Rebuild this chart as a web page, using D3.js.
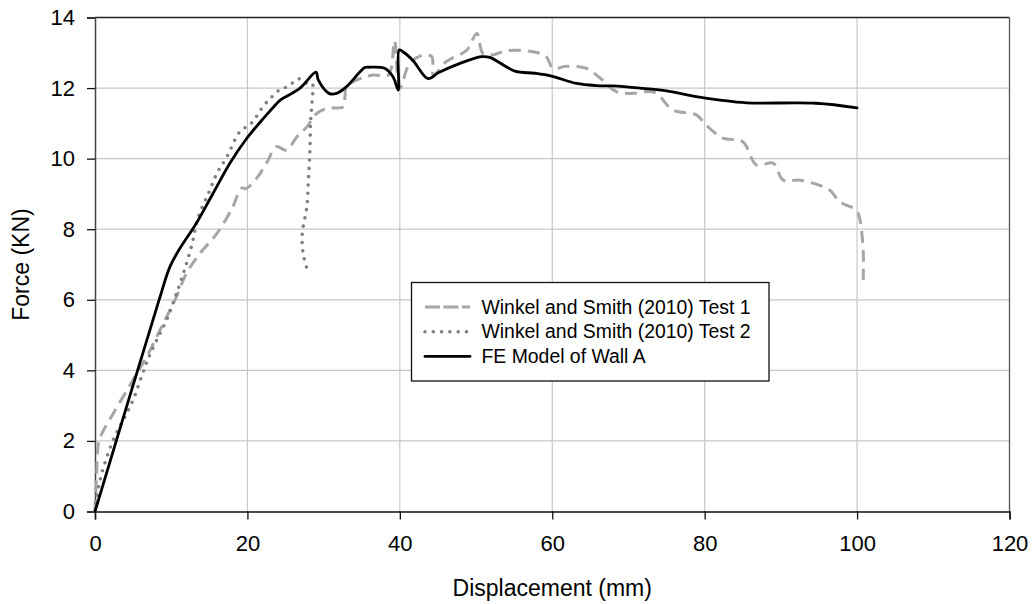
<!DOCTYPE html>
<html>
<head>
<meta charset="utf-8">
<script src="https://cdn.jsdelivr.net/npm/d3@7"></script>
<style>
  body { margin: 0; background: #fff; }
  svg { font-family: "Liberation Sans", Arial, sans-serif; }
</style>
</head>
<body>
<svg id="chart" width="1034" height="604"></svg>
<script>
// Winkel and Smith (2010) Test 1 - displacement (mm) / force (kN)
var test1Disp = [0, 0.2, 0.5, 1.0, 2.4, 4.2, 5.5, 6.8, 8.1, 9.4, 10.7, 12.0, 13.8, 16.0, 18.1, 19.2, 19.9, 21.2, 22.5, 23.8,
    25.1, 26.5, 27.8, 29.1, 30.6, 32.6, 32.8, 33.0, 34.8, 36.5, 38.5, 39.3, 40.0, 41.3, 43.1, 44.2, 44.4, 46.1, 48.8,
    50.1, 50.9, 52.2, 54.0, 57.5, 59.2, 60.1, 61.8, 64.5, 66.2, 68.4, 70.6, 72.4, 73.7, 75.8, 78.9, 80.2, 82.4, 85.0,
    86.8, 89.0, 90.3, 92.5, 96.4, 97.7, 99.9, 100.3, 100.8, 100.8];
var test1Force = [0, 1.0, 2.0, 2.25, 2.78, 3.44, 3.92, 4.39, 4.95, 5.52, 6.09, 6.75, 7.32, 7.88, 8.64, 9.16, 9.16, 9.44, 9.87, 10.34,
    10.24, 10.62, 10.9, 11.28, 11.43, 11.47, 11.75, 12.04, 12.27, 12.37, 12.37, 13.34, 12.0, 12.7, 12.94, 12.89, 12.37, 12.75, 13.08,
    13.55, 12.98, 12.94, 13.06, 13.03, 12.89, 12.56, 12.62, 12.56, 12.3, 11.9, 11.85, 11.9, 11.85, 11.38, 11.24, 10.95, 10.58, 10.48,
    9.82, 9.87, 9.39, 9.39, 9.11, 8.78, 8.54, 8.35, 7.41, 6.56];

// Winkel and Smith (2010) Test 2
var test2Disp = [0, 0.66, 2.4, 3.7, 5.0, 6.1, 7.0, 8.1, 9.4, 10.5, 11.6, 12.7, 13.5, 14.9, 16.0, 17.3, 19.0, 20.5, 22.1, 23.2,
    24.3, 25.4, 26.5, 27.1, 27.8, 28.5, 28.5, 28.3, 28.2, 28.0, 27.8, 27.2, 27.3, 27.8];
var test2Force = [0, 0.89, 2.03, 2.59, 3.16, 3.82, 4.34, 4.86, 5.43, 6.06, 6.75, 7.55, 8.31, 9.02, 9.58, 10.05, 10.76, 11.0, 11.49, 11.75,
    11.96, 12.05, 12.25, 12.25, 12.13, 12.13, 11.66, 11.09, 10.24, 9.39, 8.64, 7.88, 7.32, 6.89];

// FE Model of Wall A
var feDisp = [0, 8.4, 9.84, 11.15, 13.3, 15.5, 17.7, 19.9, 22.1, 24.3, 24.6, 26.9, 29.0, 29.3, 30.7, 31.7, 33.0, 35.4, 35.9,
    38.0, 39.1, 39.8, 39.9, 40.4, 41.7, 43.7, 45.1, 47.9, 50.7, 51.8, 55.1, 57.7, 59.9, 63.2, 65.8, 68.0, 71.9, 75.0,
    78.5, 82.0, 85.5, 94.6, 100.0];
var feForce = [0, 5.99, 6.94, 7.46, 8.17, 9.02, 9.87, 10.57, 11.14, 11.66, 11.7, 12.0, 12.45, 12.23, 11.85, 11.85, 12.04, 12.58, 12.59,
    12.56, 12.32, 11.94, 13.08, 13.03, 12.79, 12.27, 12.44, 12.70, 12.89, 12.87, 12.48, 12.42, 12.34, 12.13, 12.07, 12.06, 11.99, 11.92,
    11.77, 11.66, 11.58, 11.57, 11.44];

var xTicks = [0, 20, 40, 60, 80, 100, 120];
var yTicks = [0, 2, 4, 6, 8, 10, 12, 14];
var seriesNames = ["Winkel and Smith (2010) Test 1", "Winkel and Smith (2010) Test 2", "FE Model of Wall A"];

var svg = d3.select("#chart");
var margin = { left: 95, right: 1034 - 1009.5, top: 17.5, bottom: 604 - 511.5 };
var width = 1034 - margin.left - margin.right,
    height = 604 - margin.top - margin.bottom;

var x = d3.scaleLinear().domain([0, 120]).range([0, width]);
var y = d3.scaleLinear().domain([0, 14]).range([height, 0]);

var g = svg.append("g").attr("transform", "translate(" + margin.left + "," + margin.top + ")");

// gridlines
g.append("g")
    .selectAll("line")
    .data(xTicks.filter(function (d) { return d > 0 && d < 120; }))
    .enter().append("line")
    .attr("x1", function (d) { return x(d); })
    .attr("x2", function (d) { return x(d); })
    .attr("y1", 0).attr("y2", height)
    .attr("stroke", "#c8c8c8").attr("stroke-width", 1.2);
g.append("g")
    .selectAll("line")
    .data(yTicks.filter(function (d) { return d > 0 && d < 14; }))
    .enter().append("line")
    .attr("x1", 0).attr("x2", width)
    .attr("y1", function (d) { return y(d); })
    .attr("y2", function (d) { return y(d); })
    .attr("stroke", "#c8c8c8").attr("stroke-width", 1.2);

// plot frame (top + right)
g.append("line").attr("x1", 0).attr("x2", width).attr("y1", 0).attr("y2", 0)
    .attr("stroke", "#222").attr("stroke-width", 1.3);
g.append("line").attr("x1", width).attr("x2", width).attr("y1", 0).attr("y2", height)
    .attr("stroke", "#555").attr("stroke-width", 1.3);

// axes
var xAxis = g.append("g")
    .attr("transform", "translate(0," + height + ")")
    .call(d3.axisBottom(x).tickValues(xTicks).tickSize(8).tickPadding(16));
var yAxis = g.append("g")
    .call(d3.axisLeft(y).tickValues(yTicks).tickSize(8).tickPadding(12));

[xAxis, yAxis].forEach(function (a) {
    a.select(".domain").attr("stroke", "#111").attr("stroke-width", 1.5);
    a.selectAll(".tick line").attr("stroke", "#111").attr("stroke-width", 1.3);
    a.selectAll(".tick text").attr("fill", "#000").style("font-size", "22px")
        .style("font-family", "'Liberation Sans', Arial, sans-serif");
});
yAxis.select(".domain").attr("stroke", "#444");

// axis titles
svg.append("text")
    .attr("x", margin.left + width / 2)
    .attr("y", 596)
    .attr("text-anchor", "middle")
    .style("font-size", "23px")
    .text("Displacement (mm)");
svg.append("text")
    .attr("transform", "translate(29," + (margin.top + height / 2) + ") rotate(-90)")
    .attr("text-anchor", "middle")
    .style("font-size", "23px")
    .text("Force (KN)");

// series (smoothed like the spreadsheet lines)
var line = d3.line()
    .x(function (d) { return x(d[0]); })
    .y(function (d) { return y(d[1]); })
    .curve(d3.curveCatmullRom.alpha(0.5));

var styles = [
    { color: "#a6a6a6", width: 3, dash: "12,7", cap: "butt" },
    { color: "#7f7f7f", width: 3.6, dash: "0,8.3", cap: "round" },
    { color: "#000000", width: 2.8, dash: null, cap: "round" }
];

var series = [
    d3.zip(test1Disp, test1Force),
    d3.zip(test2Disp, test2Force),
    d3.zip(feDisp, feForce)
];

series.forEach(function (pts, i) {
    g.append("path")
        .datum(pts)
        .attr("fill", "none")
        .attr("stroke", styles[i].color)
        .attr("stroke-width", styles[i].width)
        .attr("stroke-dasharray", styles[i].dash)
        .attr("stroke-linecap", styles[i].cap)
        .attr("stroke-linejoin", "round")
        .attr("d", line);
});

// legend
var legend = svg.append("g").attr("transform", "translate(411.5,282.5)");
legend.append("rect")
    .attr("width", 357.5).attr("height", 98.5)
    .attr("fill", "#fff").attr("stroke", "#111").attr("stroke-width", 1.3);

var rows = legend.selectAll(".row")
    .data(seriesNames)
    .enter().append("g")
    .attr("class", "row")
    .attr("transform", function (d, i) { return "translate(0," + (24.5 + i * 24.7) + ")"; });
rows.append("line")
    .attr("x1", 13.5).attr("x2", 58.5)
    .attr("stroke", function (d, i) { return styles[i].color; })
    .attr("stroke-width", function (d, i) { return styles[i].width; })
    .attr("stroke-dasharray", function (d, i) { return i == 0 ? "15,3.5" : styles[i].dash; })
    .attr("stroke-linecap", function (d, i) { return styles[i].cap; });
rows.append("text")
    .attr("x", 70)
    .attr("dy", "0.35em")
    .style("font-size", "19.4px")
    .attr("fill", "#000")
    .text(function (d) { return d; });
</script>
</body>
</html>
